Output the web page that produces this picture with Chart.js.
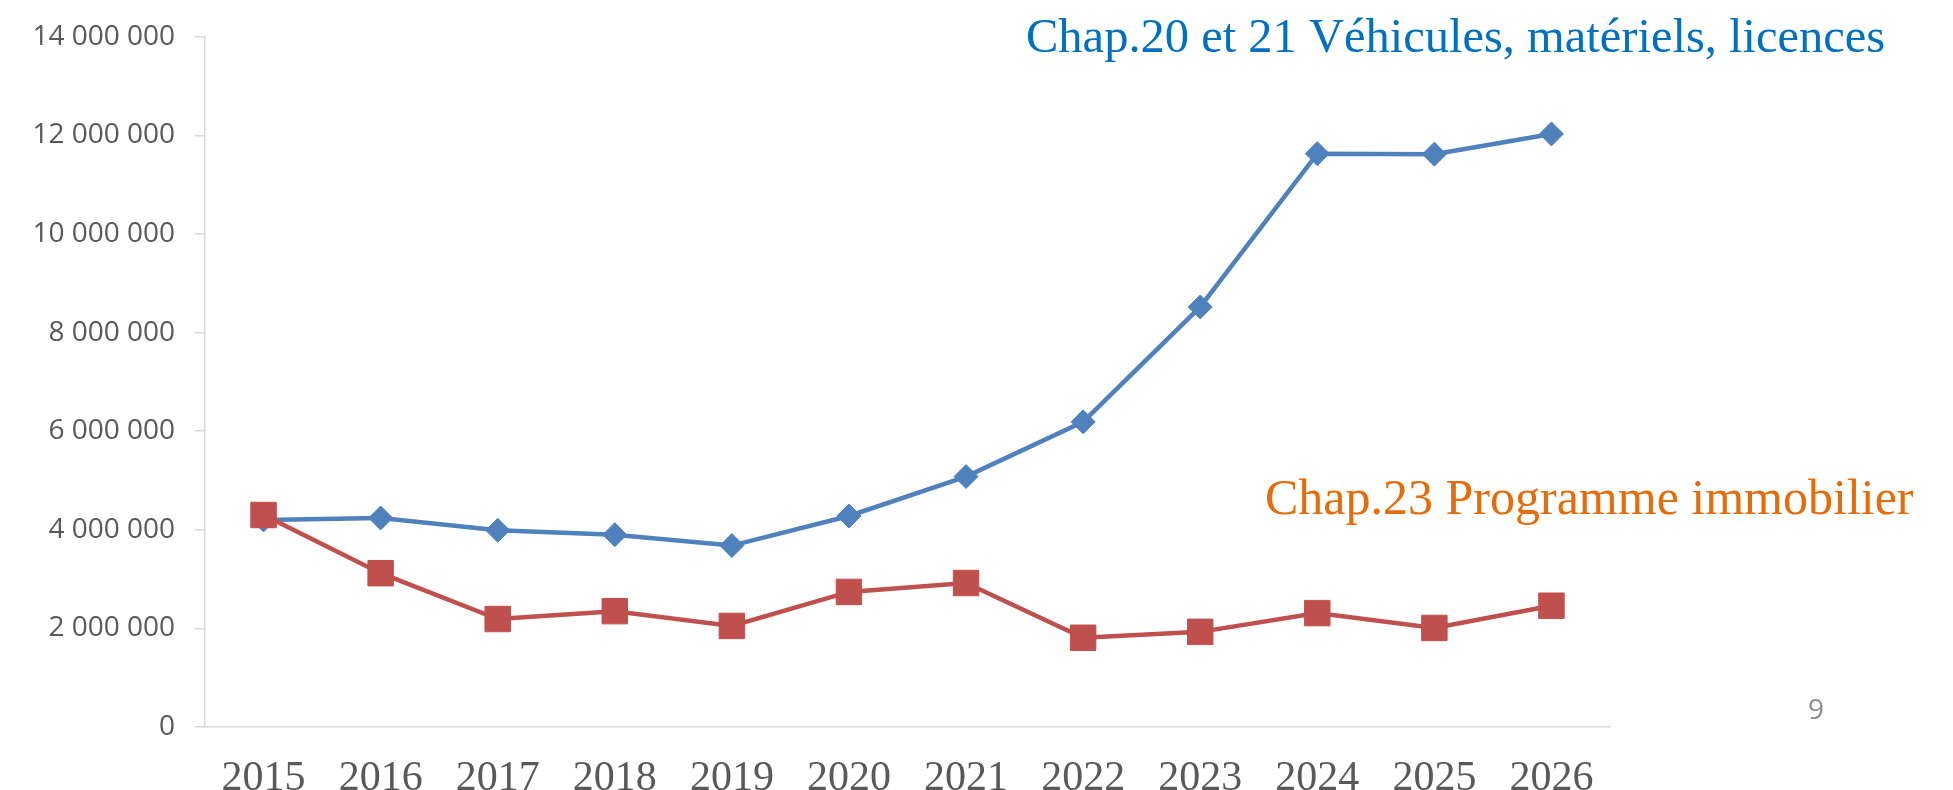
<!DOCTYPE html>
<html>
<head>
<meta charset="utf-8">
<script src="https://cdn.jsdelivr.net/npm/chart.js@4"></script>
<style>
  html, body { margin: 0; padding: 0; background: #fff; }
  canvas { display: block; }
</style>
</head>
<body>
<canvas id="budgetChart" width="1953" height="790"></canvas>
<script>
const years = ["2015", "2016", "2017", "2018", "2019", "2020", "2021", "2022", "2023", "2024", "2025", "2026"];

const vehicules = [4200000, 4240000, 3990000, 3900000, 3680000, 4280000, 5080000, 6190000, 8520000, 11630000, 11620000, 12030000];
const immobilier = [4300000, 3120000, 2190000, 2350000, 2050000, 2740000, 2920000, 1810000, 1930000, 2310000, 2010000, 2460000];

const vehiculesLabel = "Chap.20 et 21 Véhicules, matériels, licences";
const immobilierLabel = "Chap.23 Programme immobilier";
const pageNumber = "9";

const fmt = v => String(v).replace(/\B(?=(\d{3})+(?!\d))/g, " ");

// series names written next to the lines, like in the slide
const seriesText = {
    id: "seriesText",
    afterDatasetsDraw(chart) {
        const ctx = chart.ctx;
        ctx.save();
        ctx.textBaseline = "alphabetic";
        ctx.textAlign = "left";
        ctx.font = "48.5px 'Liberation Serif'";
        ctx.fillStyle = "#0070C0";
        ctx.fillText(vehiculesLabel, 1026, 52);
        ctx.font = "50px 'Liberation Serif'";
        ctx.fillStyle = "#E46C0A";
        ctx.fillText(immobilierLabel, 1265, 514);
        ctx.textAlign = "center";
        ctx.font = "28px 'Open Sans'";
        ctx.fillStyle = "#8c8c8c";
        ctx.fillText(pageNumber, 1816, 719);
        ctx.restore();
    }
};

window.onload = () => {
    const ctx = document.getElementById("budgetChart");

    new Chart(ctx, {
        type: "line",
        data: {
            labels: years,
            datasets: [
                {
                    label: vehiculesLabel,
                    data: vehicules,
                    borderColor: "#4F81BD",
                    backgroundColor: "#4F81BD",
                    borderWidth: 4.5,
                    pointStyle: "rectRot",
                    pointRadius: 12,
                    pointBorderWidth: 1,
                    pointBackgroundColor: "#4F81BD",
                    pointBorderColor: "#4F81BD",
                    tension: 0,
                    order: 2
                },
                {
                    label: immobilierLabel,
                    data: immobilier,
                    borderColor: "#C0504D",
                    backgroundColor: "#C0504D",
                    borderWidth: 4.5,
                    pointStyle: "rect",
                    pointRadius: 18,
                    pointBorderWidth: 1,
                    pointBackgroundColor: "#C0504D",
                    pointBorderColor: "#C0504D",
                    tension: 0,
                    order: 1
                }
            ]
        },
        options: {
            responsive: false,
            animation: false,
            layout: {
                padding: { left: 0, right: 343, top: 35, bottom: 0 }
            },
            plugins: {
                legend: { display: false },
                tooltip: { enabled: false }
            },
            scales: {
                x: {
                    offset: true,
                    grid: { display: false, drawTicks: false },
                    border: { display: true, color: "#d9d9d9", width: 1.5 },
                    ticks: {
                        color: "#595959",
                        font: { family: "'Liberation Serif'", size: 42 },
                        padding: 27,
                        maxRotation: 0,
                        autoSkip: false
                    },
                    afterFit(scale) { scale.height = 63; }
                },
                y: {
                    min: 0,
                    max: 14000000,
                    grid: {
                        drawOnChartArea: false,
                        drawTicks: true,
                        tickLength: 10,
                        color: "#d9d9d9",
                        lineWidth: 1.5
                    },
                    border: { display: true, color: "#d9d9d9", width: 1.5 },
                    ticks: {
                        stepSize: 2000000,
                        color: "#595959",
                        font: { family: "'Open Sans'", size: 28 },
                        padding: 20,
                        callback: v => fmt(v)
                    },
                    afterFit(scale) { scale.width = 205; }
                }
            }
        },
        plugins: [seriesText]
    });
};
</script>
</body>
</html>
